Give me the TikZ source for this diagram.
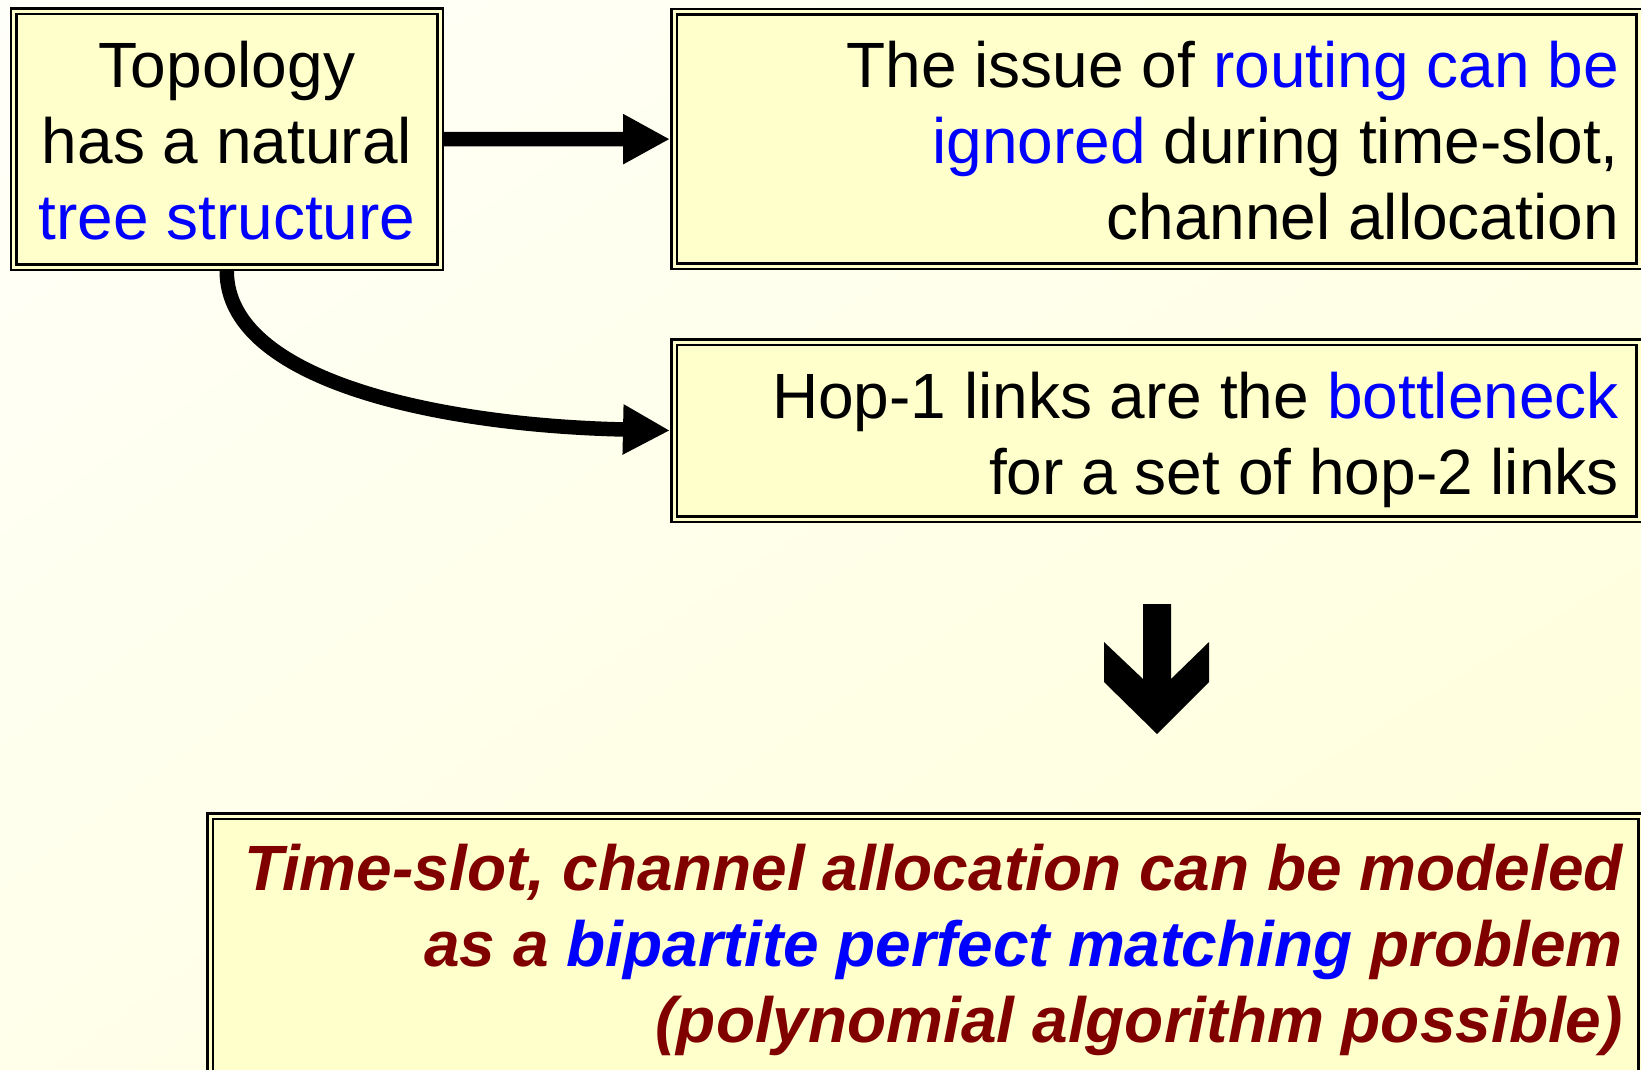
\documentclass[tikz,border=0pt]{standalone}
\usepackage{fontspec}
\setmainfont{Liberation Sans}
\usetikzlibrary{arrows.meta,shadings}

\definecolor{boxfill}{RGB}{255,255,204}
\definecolor{tblue}{RGB}{0,0,255}
\definecolor{tred}{RGB}{128,0,0}
\definecolor{bgA}{RGB}{255,255,249}
\definecolor{bgB}{RGB}{255,255,234}
\definecolor{bgC}{RGB}{255,255,216}

\begin{document}
\begin{tikzpicture}[x=1pt,y=-1pt,
  box/.style={draw=black, fill=boxfill, double=boxfill, line width=2.5pt,
    double distance=3pt, inner sep=0pt, outer sep=4pt, anchor=north west},
  txt/.style={inner sep=0pt, font=\fontsize{64}{76}\selectfont},
  rtxt/.style={txt, anchor=base east},
  ctxt/.style={txt, anchor=base},
  cltxt/.style={inner sep=0pt, anchor=base east, text=tred,
    font=\fontsize{64}{76}\selectfont\bfseries\itshape},
  bigarrow/.style={line width=14.5pt, -{Triangle[length=47pt,width=47pt]}}
]
\useasboundingbox (0,0) rectangle (1641,1070);
\clip (0,0) rectangle (1641,1070);

% page background
\shade[upper left=bgA, upper right=bgB, lower left=bgB, lower right=bgC]
  (0,0) rectangle (1641,1070);

% framed boxes (position = outer top-left corner)
\node[box, minimum width=426.5pt, minimum height=255.5pt] (b1) at (9.5,7.5) {};
\node[box, minimum width=965pt, minimum height=254pt] (b2) at (670,8) {};
\node[box, minimum width=965pt, minimum height=177pt] (b3) at (670,338) {};
\node[box, minimum width=1431pt, minimum height=260pt] (b4) at (206,812) {};

% box texts
\node[ctxt] (t1a) at (227,87.5) {Topology};
\node[ctxt] (t1b) at (227,163.5) {has a natural};
\node[ctxt] (t1c) at (227,239.5) {\textcolor{tblue}{tree structure}};

\node[rtxt] (t2a) at (1619,87.5) {The issue of \textcolor{tblue}{routing can be}};
\node[rtxt] (t2b) at (1619,163.5) {\textcolor{tblue}{ignored} during time-slot,};
\node[rtxt] (t2c) at (1619,239.5) {channel allocation};

\node[rtxt] (t3a) at (1619,418) {Hop-1 links are the \textcolor{tblue}{bottleneck}};
\node[rtxt] (t3b) at (1619,494) {for a set of hop-2 links};

\node[cltxt] (t4a) at (1623,890) {Time-slot, channel allocation can be modeled};
\node[cltxt] (t4b) at (1623,966) {as a \textcolor{tblue}{bipartite perfect matching} problem};
\node[cltxt] (t4c) at (1623,1042) {(polynomial algorithm possible)};

% connectors
\draw[bigarrow] (b1) -- (b2);
\draw[bigarrow] (b1.south) .. controls +(0,110) and +(-230,-5) .. (b3.west);

% block arrow down to the conclusion
\fill[black] (1143,604) -- (1171,604) -- (1171,679) -- (1209,642) -- (1209,682)
  -- (1157,734) -- (1104,682) -- (1104,642) -- (1143,679) -- cycle;
\end{tikzpicture}
\end{document}
